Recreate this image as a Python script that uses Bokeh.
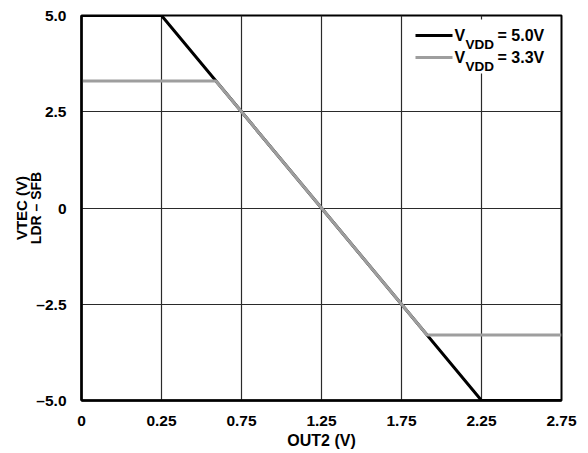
import math
from bokeh.plotting import figure
from bokeh.models import FixedTicker, Label, Title, BoxAnnotation
from bokeh.embed import file_html
from bokeh.resources import INLINE

# ---- data ----
x_left_edge = -0.25           # position of the axis start (labelled "0")
vdd50_x = [x_left_edge, 0.25, 2.25, 2.75]
vdd50_y = [5.0, 5.0, -5.0, -5.0]
vdd33_x = [x_left_edge, 0.59, 1.91, 2.75]
vdd33_y = [3.3, 3.3, -3.3, -3.3]

x_tick_pos = [-0.25, 0.25, 0.75, 1.25, 1.75, 2.25, 2.75]
x_tick_labels = ["0", "0.25", "0.75", "1.25", "1.75", "2.25", "2.75"]
y_tick_pos = [-5.0, -2.5, 0.0, 2.5, 5.0]
y_tick_labels = ["\u20135.0", "\u20132.5", "0", "2.5", "5.0"]
legend_values = ["= 5.0V", "= 3.3V"]
series_colors = ["black", "#9e9e9e"]

FONT = "Liberation Sans"
TICK_SIZE = "15.5px"

p = figure(width=588, height=453, output_backend="svg", toolbar_location=None,
           x_range=(-0.25, 2.75), y_range=(-5.0, 5.0),
           min_border_left=81, min_border_right=27, min_border_top=15,
           min_border_bottom=53)
p.background_fill_color = "white"
p.border_fill_color = "white"
p.outline_line_color = "black"
p.outline_line_width = 2

# axes
p.xaxis.ticker = FixedTicker(ticks=x_tick_pos)
p.xaxis.major_label_overrides = {k: v for k, v in zip(x_tick_pos, x_tick_labels)}
p.yaxis.ticker = FixedTicker(ticks=y_tick_pos)
p.yaxis.major_label_overrides = {k: v for k, v in zip(y_tick_pos, y_tick_labels)}
for ax in (p.xaxis, p.yaxis):
    ax.axis_line_color = "black"
    ax.axis_line_width = 2.5
    ax.major_tick_line_color = None
    ax.minor_tick_line_color = None
    ax.major_label_text_font = FONT
    ax.major_label_text_font_style = "bold"
    ax.major_label_text_font_size = TICK_SIZE
    ax.major_label_text_color = "black"
    ax.axis_label_text_font = FONT
    ax.axis_label_text_font_style = "bold"
    ax.axis_label_text_color = "black"
p.xaxis.major_label_standoff = 9
p.yaxis.major_label_standoff = 9
p.xaxis.axis_label = "OUT2 (V)"
p.xaxis.axis_label_text_font_size = "16px"
p.xaxis.axis_label_standoff = 3
# y axis title: two lines, rotated (inner line is the axis label)
p.yaxis.axis_label = "LDR \u2013 SFB"
p.yaxis.axis_label_text_font_size = "14px"
p.yaxis.axis_label_standoff = -11
p.add_layout(Title(text="VTEC (V)", align="center", text_font=FONT,
                   text_font_style="bold", text_font_size="15px",
                   text_color="black", standoff=-8, offset=0), "left")

p.xgrid.grid_line_color = "#2a2a2a"
p.ygrid.grid_line_color = "#2a2a2a"
p.xgrid.grid_line_width = 1.2
p.ygrid.grid_line_width = 1.2
p.xgrid.ticker = FixedTicker(ticks=x_tick_pos)
p.ygrid.ticker = FixedTicker(ticks=y_tick_pos)

# data lines
p.line(vdd50_x, vdd50_y, line_color=series_colors[0], line_width=3)
p.line(vdd33_x, vdd33_y, line_color=series_colors[1], line_width=3)

# legend, built from annotations (screen units, relative to the plot frame)
p.add_layout(BoxAnnotation(left=328, right=476, bottom=327, top=381,
                           left_units="screen", right_units="screen",
                           bottom_units="screen", top_units="screen",
                           fill_color="white", fill_alpha=1.0,
                           line_color=None, level="annotation"))
row_centers = [365, 343]
for yc, val, col in zip(row_centers, legend_values, series_colors):
    p.add_layout(BoxAnnotation(left=334, right=371, bottom=yc - 1.5, top=yc + 1.5,
                               left_units="screen", right_units="screen",
                               bottom_units="screen", top_units="screen",
                               fill_color=col, fill_alpha=1.0, line_color=None,
                               level="annotation"))
    p.add_layout(Label(x=373, y=yc, x_units="screen", y_units="screen",
                       text="V", text_font=FONT, text_font_style="bold",
                       text_font_size="16px", text_color="black",
                       text_baseline="middle", text_align="left",
                       level="overlay"))
    p.add_layout(Label(x=384, y=yc - 9, x_units="screen", y_units="screen",
                       text="VDD", text_font=FONT, text_font_style="bold",
                       text_font_size="13.5px", text_color="black",
                       text_baseline="alphabetic", text_align="left",
                       level="overlay"))
    p.add_layout(Label(x=416, y=yc, x_units="screen", y_units="screen",
                       text=val, text_font=FONT, text_font_style="bold",
                       text_font_size="16px", text_color="black",
                       text_baseline="middle", text_align="left",
                       level="overlay"))

open("out.html", "w").write(file_html(p, INLINE))
